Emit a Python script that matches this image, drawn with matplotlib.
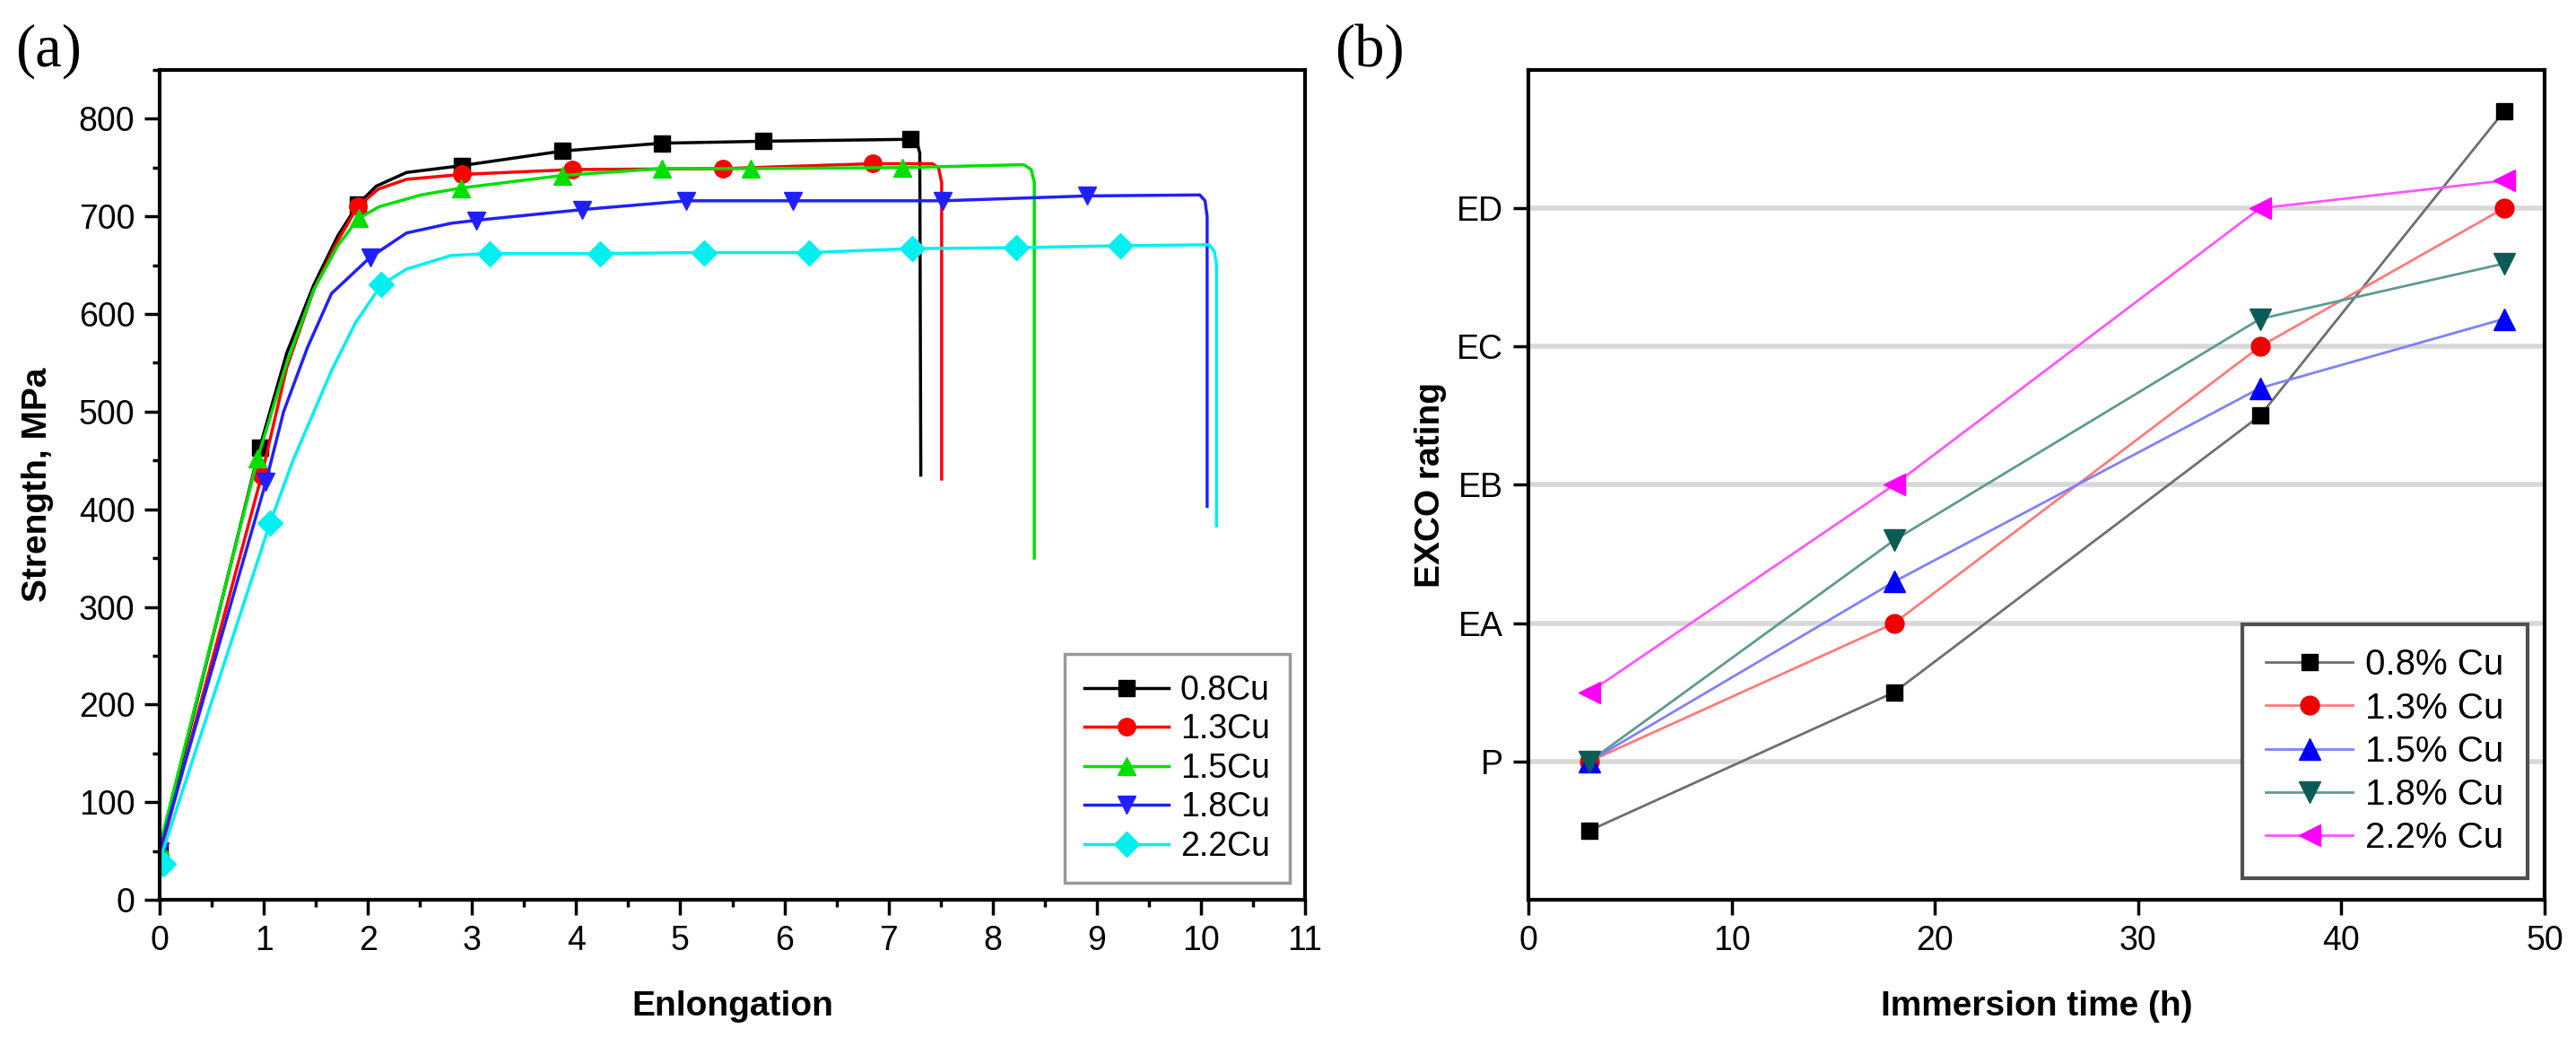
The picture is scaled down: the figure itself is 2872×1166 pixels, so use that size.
import numpy as np
import matplotlib
matplotlib.use('Agg')
import matplotlib.pyplot as plt
from matplotlib.lines import Line2D
from matplotlib.ticker import MultipleLocator

plt.rcParams['font.family'] = ['Liberation Sans', 'DejaVu Sans']

# ---- (a) tensile curves ----
labels_a = ['0.8Cu', '1.3Cu', '1.5Cu', '1.8Cu', '2.2Cu']

strain_08 = [0, 0.96, 1.22, 1.48, 1.71, 1.9, 2.08, 2.37, 2.9, 3.87, 4.82, 5.8, 7.21, 7.27, 7.30, 7.31]
stress_08 = [50, 463, 560, 630, 680, 712, 731, 745, 752, 767, 775, 777, 779, 777, 765, 435]
strain_13 = [0, 0.98, 1.22, 1.48, 1.71, 1.9, 2.1, 2.37, 2.9, 3.96, 5.41, 6.85, 7.42, 7.48, 7.51, 7.51]
stress_13 = [45, 435, 545, 625, 675, 710, 728, 738, 743, 748, 749, 754, 754, 750, 735, 431]
strain_15 = [0, 0.94, 1.22, 1.48, 1.71, 1.91, 2.11, 2.51, 2.89, 3.87, 4.82, 5.68, 7.13, 8.3, 8.37, 8.40, 8.40]
stress_15 = [55, 452, 550, 625, 670, 698, 710, 722, 729, 742, 749, 749, 750, 753, 748, 735, 350]
strain_18 = [0, 1.02, 1.19, 1.42, 1.65, 2.02, 2.37, 2.8, 3.04, 4.06, 5.06, 6.08, 7.52, 8.91, 9.99, 10.04, 10.06, 10.06]
stress_18 = [50, 428, 500, 566, 621, 658, 683, 693, 696, 707, 716, 716, 716, 721, 722, 716, 700, 403]
strain_22 = [0, 1.06, 1.28, 1.65, 1.88, 2.13, 2.37, 2.8, 3.17, 4.23, 5.23, 6.24, 7.23, 8.23, 9.23, 10.08, 10.13, 10.15, 10.15]
stress_22 = [40, 386, 450, 542, 591, 630, 646, 660, 662, 662, 663, 663, 667, 668, 670, 671, 664, 650, 383]

# symbol positions along each curve
mk_x_08 = [0, 0.96, 1.9, 2.9, 3.87, 4.82, 5.8, 7.21]
mk_y_08 = [50, 463, 712, 752, 767, 775, 777, 779]
mk_x_13 = [0, 0.98, 1.9, 2.9, 3.96, 5.41, 6.85]
mk_y_13 = [45, 435, 710, 743, 748, 749, 754]
mk_x_15 = [0, 0.94, 1.91, 2.89, 3.87, 4.82, 5.68, 7.13]
mk_y_15 = [55, 452, 698, 729, 742, 749, 749, 750]
mk_x_18 = [0, 1.02, 2.02, 3.04, 4.06, 5.06, 6.08, 7.52, 8.91]
mk_y_18 = [50, 428, 658, 696, 707, 716, 716, 716, 721]
mk_x_22 = [0.03, 1.06, 2.13, 3.17, 4.23, 5.23, 6.24, 7.23, 8.23, 9.23]
mk_y_22 = [37, 386, 630, 662, 662, 663, 663, 667, 668, 670]

# ---- (b) EXCO rating ----
time_h = [3, 18, 36, 48]
rating_labels = ['P', 'EA', 'EB', 'EC', 'ED']
rating_08 = [0.5, 1.5, 3.5, 5.7]
rating_13 = [1.0, 2.0, 4.0, 5.0]
rating_15 = [1.0, 2.3, 3.7, 4.2]
rating_18 = [1.0, 2.6, 4.2, 4.6]
rating_22 = [1.5, 3.0, 5.0, 5.2]
labels_b = ['0.8% Cu', '1.3% Cu', '1.5% Cu', '1.8% Cu', '2.2% Cu']

fig = plt.figure(figsize=(28.72, 11.66), dpi=100)
ax1 = fig.add_axes([0.062, 0.1398, 0.4446, 0.7933])
ax2 = fig.add_axes([0.5933, 0.1398, 0.3945, 0.7933])

tick_fs = 27
label_fs = 28

# panel (a)
curves = [(strain_08, stress_08, mk_x_08, mk_y_08),
          (strain_13, stress_13, mk_x_13, mk_y_13),
          (strain_15, stress_15, mk_x_15, mk_y_15),
          (strain_18, stress_18, mk_x_18, mk_y_18),
          (strain_22, stress_22, mk_x_22, mk_y_22)]
colors_a = ['black', '#ff0000', '#00e000', '#2020ff', '#00f0f0']
markers_a = ['s', 'o', '^', 'v', 'D']
msize_a = [13, 14, 15, 15, 14]
handles_a = []
for (sx, sy, mx, my), c, m, ms, lab in zip(curves, colors_a, markers_a, msize_a, labels_a):
    ax1.plot(sx, sy, color=c, lw=2.5)
    ax1.plot(mx, my, ls='none', marker=m, ms=ms, color=c, mec=c)
    handles_a.append(Line2D([], [], color=c, lw=2.5, marker=m, ms=ms, mec=c, label=lab))

ax1.set_xlim(0, 11)
ax1.set_ylim(0, 850)
ax1.xaxis.set_major_locator(MultipleLocator(1))
ax1.xaxis.set_minor_locator(MultipleLocator(0.5))
ax1.yaxis.set_major_locator(MultipleLocator(100))
ax1.yaxis.set_minor_locator(MultipleLocator(50))
ax1.set_xlabel('Enlongation', fontsize=label_fs, fontweight='bold', labelpad=27)
ax1.set_ylabel('Strength, MPa', fontsize=label_fs, fontweight='bold', labelpad=20)
leg1 = ax1.legend(handles=handles_a, loc='lower right', bbox_to_anchor=(0.987, 0.02),
                  borderaxespad=0, fontsize=27, fancybox=False, edgecolor='#808080',
                  handlelength=2.5, handletextpad=0.35, labelspacing=0.2, borderpad=0.6,
                  numpoints=1)
leg1.get_frame().set_linewidth(2.5)

# panel (b)
series_b = [rating_08, rating_13, rating_15, rating_18, rating_22]
line_cols_b = ['#6e6e6e', '#ff7a7a', '#8080ff', '#5e9a92', '#ff55ff']
mk_cols_b = ['black', '#ee0000', '#0000ff', '#0b5c57', '#ff00ff']
markers_b = ['s', 'o', '^', 'v', '<']
msize_b = [13, 15, 17, 17, 17]
for vals, lc, mc, m, ms, lab in zip(series_b, line_cols_b, mk_cols_b, markers_b, msize_b, labels_b):
    ax2.plot(time_h, vals, color=lc, lw=2, marker=m, ms=ms, mfc=mc, mec=mc, label=lab)

ax2.set_xlim(0, 50)
ax2.set_ylim(0, 6)
ax2.xaxis.set_major_locator(MultipleLocator(10))
ax2.set_yticks(range(1, 6))
ax2.set_yticklabels(rating_labels)
ax2.yaxis.grid(True, color='#d8d8d8', lw=4)
ax2.set_axisbelow(True)
ax2.set_xlabel('Immersion time (h)', fontsize=label_fs, fontweight='bold', labelpad=27)
ax2.set_ylabel('EXCO rating', fontsize=label_fs, fontweight='bold', labelpad=8)
leg2 = ax2.legend(loc='lower right', bbox_to_anchor=(0.983, 0.026), borderaxespad=0,
                  fontsize=29, fancybox=False, edgecolor='#505050', framealpha=1,
                  handlelength=2.4, handletextpad=0.35, labelspacing=0.25, borderpad=0.65,
                  numpoints=1)
leg2.get_frame().set_linewidth(3)

for ax in (ax1, ax2):
    for sp in ax.spines.values():
        sp.set_linewidth(3)
    ax.tick_params(which='major', direction='out', length=12, width=2.5,
                   labelsize=tick_fs, pad=8, top=False, right=False)
    ax.tick_params(which='minor', direction='out', length=6, width=2.5,
                   top=False, right=False)

fig.text(0.006, 0.951, '(a)', fontsize=48, family=['Liberation Serif', 'DejaVu Serif'], va='center')
fig.text(0.518, 0.951, '(b)', fontsize=48, family=['Liberation Serif', 'DejaVu Serif'], va='center')

fig.savefig('out.png', dpi=100, facecolor='white')
